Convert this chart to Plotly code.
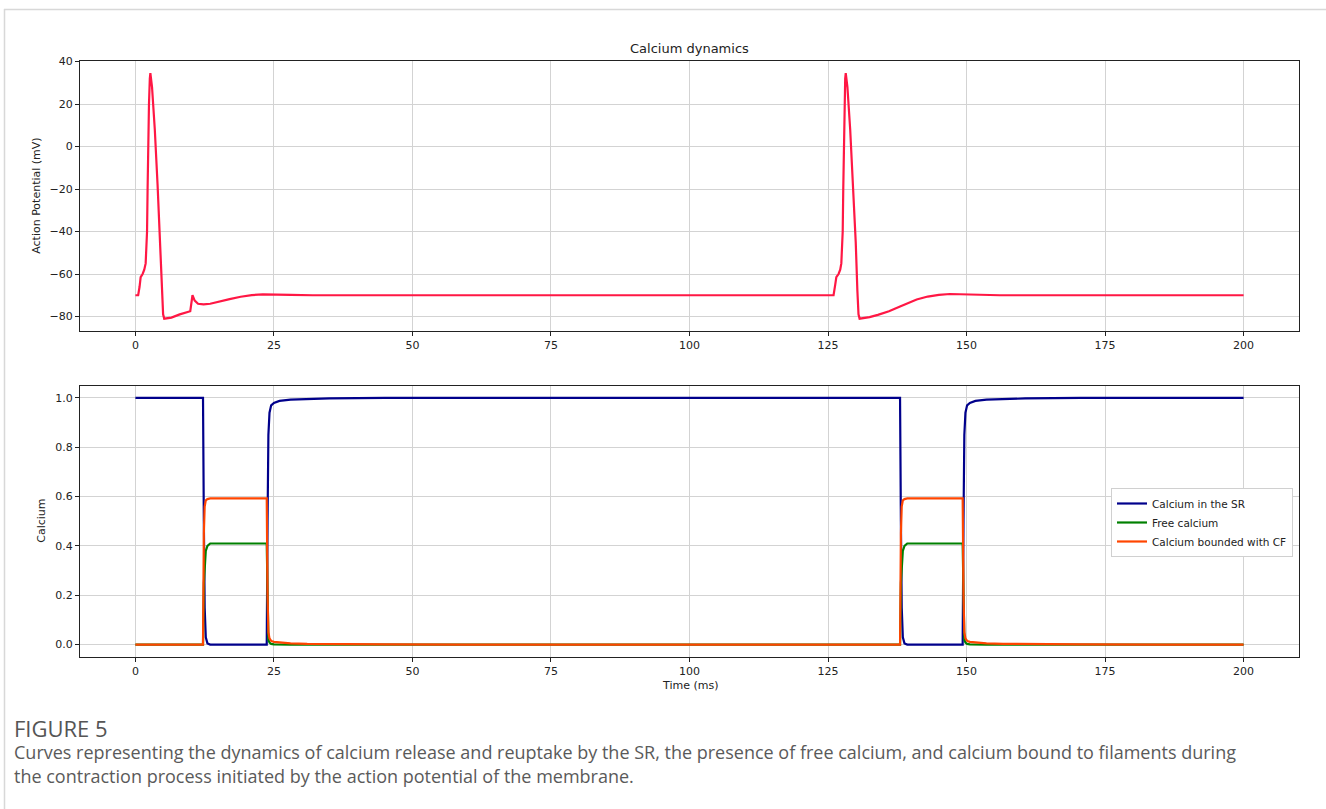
import plotly.graph_objects as go

# ---- Data ----
t_ap = [0, 0.5, 0.75, 0.95, 1.3, 1.6, 1.85, 2.0, 2.1, 2.2, 2.3, 2.45, 2.6, 2.7,
        3.0, 3.5, 4.0, 4.5, 4.8, 5.0, 5.2, 6.5, 8.0, 9.0, 9.9, 10.3, 10.7, 11.3,
        12.3, 13.5, 15.0, 17.0, 19.0, 21.0, 23.0, 25.0, 28.0, 32.0, 40.0,
        126.0, 126.3, 126.5, 126.9, 127.2, 127.4, 127.55, 127.65, 127.75, 127.85,
        127.97, 128.1, 128.2, 128.5, 129.0, 129.5, 130.0, 130.3, 130.5, 130.7,
        131.5, 132.5, 134.0, 136.0, 138.0, 140.0, 141.0, 143.0, 145.0, 147.0,
        150.0, 153.0, 156.0, 200.0]
v_ap = [-70, -70, -66, -61.5, -60, -58, -55, -48, -40, -20, 0, 20, 32, 34.5,
        28, 8, -18, -45, -68, -79, -81, -80.5, -79, -78.3, -77.5, -70, -72.5, -74,
        -74.3, -74, -73, -71.8, -70.7, -69.9, -69.6, -69.6, -69.8, -70, -70,
        -70, -65, -61.5, -60, -58, -55, -48, -40, -20, 0,
        20, 32, 34.5, 28, 8, -18, -45, -68, -79, -81,
        -80.8, -80.3, -79.2, -77.5, -75.3, -73.0, -72.0, -70.6, -69.8, -69.4,
        -69.5, -69.8, -70, -70]

t_ca = [0, 12.2, 12.35, 12.5, 12.7, 13.0, 13.5,
        23.7, 23.85, 24.0, 24.2, 24.5, 25.0, 26.0, 28.0, 31.0, 35.0, 45.0, 60.0,
        138.0, 138.15, 138.3, 138.5, 138.8, 139.3,
        149.3, 149.45, 149.6, 149.8, 150.1, 150.6, 151.6, 153.6, 156.6, 160.6, 170.6, 185.6,
        200.0]
ca_sr = [1, 1, 0.5, 0.15, 0.03, 0.005, 0,
         0, 0.5, 0.85, 0.94, 0.97, 0.98, 0.988, 0.993, 0.996, 0.998, 1.0, 1.0,
         1, 0.5, 0.15, 0.03, 0.005, 0,
         0, 0.5, 0.85, 0.94, 0.97, 0.98, 0.988, 0.993, 0.996, 0.998, 1.0, 1.0,
         1.0]
ca_free = [0, 0, 0.25, 0.33, 0.38, 0.40, 0.41,
           0.41, 0.1, 0.02, 0.008, 0.003, 0.001, 0, 0, 0, 0, 0, 0,
           0, 0.25, 0.33, 0.38, 0.40, 0.41,
           0.41, 0.1, 0.02, 0.008, 0.003, 0.001, 0, 0, 0, 0, 0, 0,
           0]
ca_bound = [0, 0, 0.45, 0.56, 0.585, 0.59, 0.593,
            0.593, 0.2, 0.05, 0.025, 0.015, 0.011, 0.008, 0.005, 0.003, 0.002, 0.001, 0,
            0, 0.45, 0.56, 0.585, 0.59, 0.593,
            0.593, 0.2, 0.05, 0.025, 0.015, 0.011, 0.008, 0.005, 0.003, 0.002, 0.001, 0,
            0]

x_ticks = [0, 25, 50, 75, 100, 125, 150, 175, 200]
ap_ticks = [-80, -60, -40, -20, 0, 20, 40]
ca_ticks = [0.0, 0.2, 0.4, 0.6, 0.8, 1.0]

series_names = ["Calcium in the SR", "Free calcium", "Calcium bounded with CF"]
series_colors = ["#00008B", "#008000", "#FF4500"]

title_text = "Calcium dynamics"
caption_head = "FIGURE 5"
caption_lines = [
    "Curves representing the dynamics of calcium release and reuptake by the SR, the presence of free calcium, and calcium bound to filaments during",
    "the contraction process initiated by the action potential of the membrane.",
]

# ---- Layout geometry (pixels) ----
W, H = 1326, 809
def px(x):
    return x / W
def py(y):
    return 1 - y / H

FONT = "DejaVu Sans"
TICK_FONT = dict(family=FONT, size=11, color="#222")

fig = go.Figure()
fig.add_trace(go.Scatter(x=t_ap, y=v_ap, mode="lines", line=dict(color="#FF1744", width=2.2),
                         showlegend=False, xaxis="x", yaxis="y"))
for name, vals, col in [(series_names[0], ca_sr, series_colors[0]),
                        (series_names[1], ca_free, series_colors[1]),
                        (series_names[2], ca_bound, series_colors[2])]:
    fig.add_trace(go.Scatter(x=t_ca, y=vals, mode="lines", name=name,
                             line=dict(color=col, width=2.2), xaxis="x2", yaxis="y2"))

axis_common = dict(showline=True, linecolor="#222", linewidth=1, mirror=True,
                   showgrid=True, gridcolor="#d3d3d3", gridwidth=1, zeroline=False,
                   ticks="outside", ticklen=4, tickcolor="#222", tickfont=TICK_FONT)

xdom = [px(80), px(1299)]
fig.update_layout(
    width=W, height=H, autosize=False,
    margin=dict(l=0, r=0, t=0, b=0),
    paper_bgcolor="white", plot_bgcolor="white",
    xaxis=dict(domain=xdom, range=[-10, 210], tickvals=x_ticks, anchor="y", **axis_common),
    yaxis=dict(domain=[py(328), py(56)], range=[-86.8, 40.4], tickvals=ap_ticks, anchor="x", **axis_common),
    xaxis2=dict(domain=xdom, range=[-10, 210], tickvals=x_ticks, anchor="y2", **axis_common),
    yaxis2=dict(domain=[py(656), py(383)], range=[-0.05, 1.05], tickvals=ca_ticks,
                tickformat=".1f", anchor="x2", **axis_common),
    legend=dict(x=px(1293), y=py(486), xanchor="right", yanchor="top",
                bgcolor="white", bordercolor="#d0d0d0", borderwidth=1,
                font=dict(family=FONT, size=10.5, color="#222"), itemwidth=30,
                tracegroupgap=0),
    showlegend=True,
)

ann = []
ann.append(dict(text=title_text, x=px(689.5), y=py(44), xref="paper", yref="paper",
                showarrow=False, xanchor="center", yanchor="middle",
                font=dict(family=FONT, size=13, color="#222")))
ann.append(dict(text="Action Potential (mV)", x=px(37), y=py(192), xref="paper", yref="paper",
                showarrow=False, xanchor="center", yanchor="middle", textangle=-90,
                font=dict(family=FONT, size=11, color="#222")))
ann.append(dict(text="Calcium", x=px(42), y=py(519), xref="paper", yref="paper",
                showarrow=False, xanchor="center", yanchor="middle", textangle=-90,
                font=dict(family=FONT, size=11, color="#222")))
ann.append(dict(text="Time (ms)", x=px(689.5), y=py(685), xref="paper", yref="paper",
                showarrow=False, xanchor="center", yanchor="middle",
                font=dict(family=FONT, size=11, color="#222")))
ann.append(dict(text=caption_head, x=px(12), y=py(727), xref="paper", yref="paper",
                showarrow=False, xanchor="left", yanchor="middle",
                font=dict(family="Open Sans", size=22, color="#555")))
for i, line in enumerate(caption_lines):
    ann.append(dict(text=line, x=px(12), y=py(752 + 24 * i), xref="paper", yref="paper",
                    showarrow=False, xanchor="left", yanchor="middle",
                    font=dict(family="Open Sans", size=18, color="#5a5a5a")))
fig.update_layout(annotations=ann)

fig.update_layout(shapes=[
    dict(type="line", xref="paper", yref="paper", x0=px(4), x1=1, y0=py(4.5), y1=py(4.5),
         line=dict(color="#d8d8d8", width=1.5)),
    dict(type="line", xref="paper", yref="paper", x0=px(4.5), x1=px(4.5), y0=py(4), y1=0,
         line=dict(color="#d8d8d8", width=1.5)),
])

fig.write_html(
    "out.html",
    config={"displayModeBar": False},
    post_script="document.body.style.margin='0';document.body.style.padding='0';"
                "document.documentElement.style.overflow='hidden';document.body.style.overflow='hidden';",
)
